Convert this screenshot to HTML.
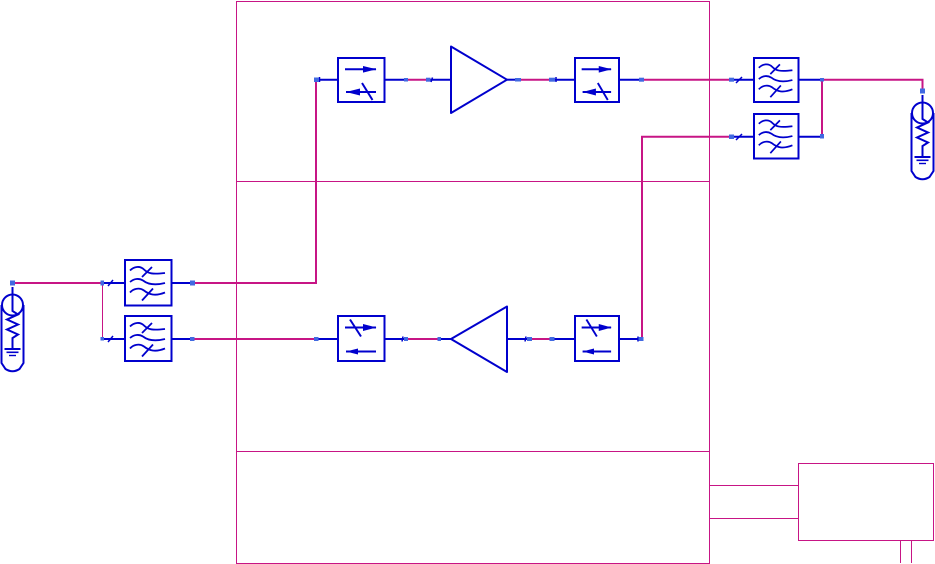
<!DOCTYPE html>
<html>
<head>
<meta charset="utf-8">
<style>
html,body{margin:0;padding:0;background:#fff;width:935px;height:564px;overflow:hidden}
svg{display:block}
.m{stroke:#c71585;fill:none}
.b{stroke:#0000cd;fill:none;stroke-width:2}
.n{fill:#4169e1}
.box{fill:#fff;stroke:#0000cd;stroke-width:2}
</style>
</head>
<body>
<svg width="935" height="564" viewBox="0 0 935 564" xmlns="http://www.w3.org/2000/svg">
<defs>
  <g id="filter">
    <g fill="none" stroke="#0000cd" stroke-width="1.800">
      <path d="M5 10C9 6 15 5 19 9C23 13 27 14 40 12.500"/>
      <path d="M27 6.500L17 16.500"/>
      <path d="M5 21.500C9 18 14 17.500 18 20C23 24 30 25 40 22.500"/>
      <path d="M5 32C8 28.500 14 26.500 19 30C24 34 30 36 40 32"/>
      <path d="M28 28L17 40"/>
    </g>
  </g>
  <g id="isoT">
    <path d="M7 11.300H38" stroke="#0000cd" stroke-width="2"/>
    <path d="M25 8L38.500 11.300L25 14.600Z" fill="#0000cd"/>
    <path d="M38 34H8" stroke="#0000cd" stroke-width="2"/>
    <path d="M8 34L22 30.500V37.500Z" fill="#0000cd"/>
    <path d="M24 25L34.500 42" stroke="#0000cd" stroke-width="2"/>
  </g>
  <g id="isoB">
    <path d="M7 11.500H38" stroke="#0000cd" stroke-width="2"/>
    <path d="M25 8L38.500 11.500L25 15Z" fill="#0000cd"/>
    <path d="M38 35.500H8" stroke="#0000cd" stroke-width="2"/>
    <path d="M8 35.500L20 32.500V38.500Z" fill="#0000cd"/>
    <path d="M12 3.500L23 20.500" stroke="#0000cd" stroke-width="2"/>
  </g>
  <g id="load">
    <path d="M-11 10V68L-7 74Q0 78.500 7 74L11 68V10" fill="none" stroke="#0000cd" stroke-width="2"/>
    <circle cx="0" cy="10" r="10.500" fill="#fff" stroke="#0000cd" stroke-width="2"/>
    <path d="M0 -8V16L5.500 19.500L-5.500 24.500L5.500 29.500L-5.500 34.500L5.500 39.500L0 43V53" fill="none" stroke="#0000cd" stroke-width="2"/>
    <path d="M-8 54H8" stroke="#0000cd" stroke-width="2"/>
    <path d="M-6 57.300H6" stroke="#0000cd" stroke-width="1.600"/>
    <path d="M-3.500 60.500H3.500" stroke="#0000cd" stroke-width="1.400"/>
  </g>
</defs>

<!-- outer frames -->
<g class="m" stroke-width="1">
  <rect x="236.500" y="1.500" width="473" height="562"/>
  <path d="M236.500 181.500H709.500"/>
  <path d="M236.500 451.500H709.500"/>
  <rect x="798.500" y="463.500" width="135" height="77"/>
  <path d="M709.500 485.500H798.500"/>
  <path d="M709.500 518.500H798.500"/>
  <path d="M900.500 540.500V563"/>
  <path d="M911.500 540.500V563"/>
  <path d="M102.500 283V339"/>
</g>

<!-- magenta thick wires -->
<g class="m" stroke-width="2">
  <path d="M12 283H102"/>
  <path d="M192 283H316V80"/>
  <path d="M192 339H316"/>
  <path d="M406 79.700H428"/>
  <path d="M518 79.700H552"/>
  <path d="M641 79.700H732"/>
  <path d="M732 136.700H642V339"/>
  <path d="M406 339H439"/>
  <path d="M529 339H552"/>
  <path d="M822 79.700H922.500V91"/>
  <path d="M822 79.700V136.500"/>
</g>

<!-- blue wires -->
<g class="b">
  <path d="M102 283H125"/>
  <path d="M102 339H125"/>
  <path d="M171 283H192"/>
  <path d="M171 339H192"/>
  <path d="M316 79.700H338"/>
  <path d="M384 79.700H406"/>
  <path d="M428 79.700H451"/>
  <path d="M507 79.700H518"/>
  <path d="M552 79.700H575"/>
  <path d="M619 79.700H641"/>
  <path d="M732 79.700H754"/>
  <path d="M732 136.700H754"/>
  <path d="M798 79.700H822"/>
  <path d="M798 136.700H822"/>
  <path d="M316 339H338"/>
  <path d="M384 339H406"/>
  <path d="M439 339H451"/>
  <path d="M507 339H529"/>
  <path d="M552 339H575"/>
  <path d="M619 339H641"/>
</g>

<!-- small ticks -->
<g stroke="#0000cd" stroke-width="1.500" fill="none">
  <path d="M108 286L113 280"/>
  <path d="M108 342L113 336"/>
  <path d="M319.500 82V77"/>
  <path d="M431 82L432.500 77.500"/>
  <path d="M556 82V77"/>
  <path d="M736 83L742 77"/>
  <path d="M736 140L742 134"/>
  <path d="M402 341.500L403 336.500"/>
  <path d="M525 341.500L526 336.500"/>
  <path d="M638 341.500V336.500"/>
</g>

<!-- components -->
<rect class="box" x="125" y="260" width="46.500" height="45.500"/>
<use href="#filter" x="125" y="260.500"/>
<rect class="box" x="125" y="316" width="46.500" height="45"/>
<use href="#filter" x="125" y="316.500"/>
<rect class="box" x="754" y="58" width="44.500" height="44"/>
<use href="#filter" transform="translate(754 58) scale(.96 .98)"/>
<rect class="box" x="754" y="114" width="44.500" height="44.500"/>
<use href="#filter" transform="translate(754 114) scale(.96 .98)"/>
<rect class="box" x="338" y="58" width="46.500" height="44"/>
<use href="#isoT" x="338" y="58"/>
<rect class="box" x="575" y="58" width="44" height="44"/>
<use href="#isoT" transform="translate(575 58) scale(.95 1)"/>
<rect class="box" x="338" y="316" width="46.500" height="45"/>
<use href="#isoB" x="338" y="316"/>
<rect class="box" x="575" y="316" width="44" height="45"/>
<use href="#isoB" transform="translate(575 316) scale(.95 1)"/>
<path d="M451 46.500L507 79.700L451 113Z" fill="#fff" stroke="#0000cd" stroke-width="2" stroke-linejoin="round"/>
<path d="M507 306.500L451 339L507 372Z" fill="#fff" stroke="#0000cd" stroke-width="2" stroke-linejoin="round"/>
<use href="#load" x="12.500" y="295"/>
<use href="#load" x="922.500" y="103"/>

<!-- nodes -->
<g class="n">
  <rect x="10" y="280.500" width="5" height="5"/>
  <rect x="100.500" y="280.500" width="3.500" height="5"/>
  <rect x="100.500" y="337" width="3.500" height="3.500"/>
  <rect x="190" y="280.500" width="5" height="5"/>
  <rect x="190" y="337" width="4.500" height="4"/>
  <rect x="314" y="77.500" width="5" height="4.500"/>
  <rect x="404" y="78" width="4" height="3.500"/>
  <rect x="426" y="77.700" width="4.500" height="4"/>
  <rect x="515" y="78" width="6" height="3.500"/>
  <rect x="549" y="77.700" width="6" height="4"/>
  <rect x="639" y="77.700" width="5" height="4"/>
  <rect x="729" y="77.700" width="5" height="4"/>
  <rect x="729" y="134.500" width="5" height="4.500"/>
  <rect x="820" y="78" width="4" height="3.500"/>
  <rect x="820" y="134" width="4" height="4.500"/>
  <rect x="920" y="88.500" width="5" height="5"/>
  <rect x="314" y="337" width="4.500" height="4"/>
  <rect x="404" y="337" width="4" height="4"/>
  <rect x="437.500" y="337" width="3.500" height="4"/>
  <rect x="527" y="337" width="5" height="4"/>
  <rect x="549.500" y="337" width="5" height="4"/>
  <rect x="638.500" y="337" width="5" height="4"/>
</g>
</svg>
</body>
</html>
